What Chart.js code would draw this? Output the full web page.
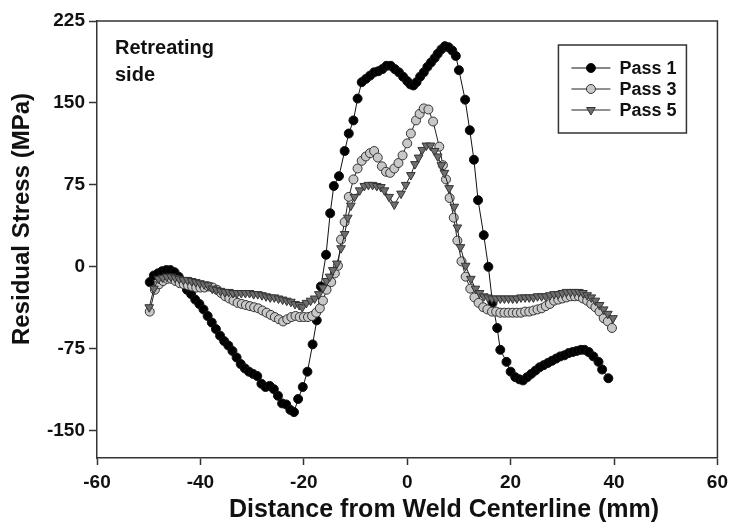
<!DOCTYPE html>
<html lang="en">
<head>
    <meta charset="UTF-8">
    <title>Residual Stress vs Distance from Weld Centerline</title>
    <script src="https://cdn.jsdelivr.net/npm/chart.js"></script>
    <style>
        html, body {
            margin: 0;
            padding: 0;
            background-color: #fff;
        }
        #wrap {
            width: 734px;
            height: 527px;
        }
    </style>
</head>
<body>
    <div id="wrap">
        <canvas id="stressChart" width="734" height="527"></canvas>
    </div>

    <script>
        /***************************
                  DATA
        ***************************/

        // Pass 1 measurements: distance (mm) and residual stress (MPa)
        const pass1X = [-49.8, -49.0, -48.2, -47.4, -46.6, -45.8, -45.0, -44.2, -43.4, -42.6,
            -41.8, -41.0, -40.2, -39.4, -38.6, -37.8, -37.0, -36.2, -35.4, -34.6,
            -33.8, -33.0, -32.2, -31.4, -30.6, -29.8, -29.0, -28.2, -27.4, -26.6,
            -25.8, -25.0, -24.2, -23.4, -22.6, -21.9, -21.1, -20.2, -19.3, -18.3,
            -17.5, -16.7, -15.7, -14.9, -14.2, -13.2, -12.1, -11.3, -10.4, -9.6,
            -8.8, -8.0, -7.2, -6.4, -5.6, -4.8, -4.0, -3.2, -2.4, -1.6,
            -0.8, 0.0, 0.6, 1.2, 1.8, 2.5, 3.2, 3.9, 4.6, 5.3,
            5.9, 6.6, 7.3, 8.0, 8.7, 9.4, 10.0, 11.2, 12.1, 12.9,
            13.7, 14.8, 15.7, 16.5, 17.4, 18.0, 19.2, 20.0, 20.9, 21.7,
            22.4, 23.2, 24.0, 24.8, 25.6, 26.4, 27.2, 28.0, 28.8, 29.6,
            30.4, 31.2, 32.0, 32.8, 33.6, 34.3, 35.1, 36.0, 37.0, 37.7, 38.9];
        const pass1Y = [-14, -8, -6, -4, -3, -3, -5, -9, -14, -21,
            -25, -30, -34, -39, -45, -51, -57, -63, -68, -72,
            -77, -83, -89, -93, -96, -98, -100, -107, -110, -109,
            -112, -118, -125, -126, -131, -133, -121, -110, -96, -71,
            -49, -18, 11, 49, 74, 83, 106, 122, 134, 154,
            169, 172, 175, 178, 179, 181, 184, 184, 181, 178,
            174, 170, 167, 166, 169, 174, 178, 183, 187, 191,
            195, 199, 202, 201, 198, 193, 180, 153, 125, 98,
            61, 29, 0, -33, -56, -76, -87, -96, -101, -103,
            -104, -101, -98, -95, -92, -90, -88, -86, -84, -82,
            -81, -79, -78, -77, -76, -76, -78, -82, -87, -94, -102];

        // Pass 3 measurements
        const pass3X = [-49.8, -48.8, -48.0, -47.2, -46.4, -45.6, -44.8, -44.0, -43.2, -42.4,
            -41.6, -40.8, -40.0, -39.2, -38.4, -37.6, -36.8, -36.0, -35.2, -34.4,
            -33.6, -32.8, -32.0, -31.2, -30.4, -29.6, -28.8, -28.0, -27.2, -26.4,
            -25.6, -24.8, -24.0, -23.2, -22.4, -21.6, -20.8, -20.0, -19.2, -18.4,
            -17.6, -16.9, -16.3, -15.6, -14.7, -14.0, -13.4, -12.8, -12.1, -11.3,
            -10.4, -9.6, -8.8, -8.0, -7.2, -6.4, -5.7, -4.9, -4.1, -3.3,
            -2.5, -1.7, -0.9, 0.0, 0.7, 1.7, 2.4, 3.2, 4.1, 5.0,
            6.2, 6.9, 7.5, 8.2, 9.0, 9.7, 10.5, 11.3, 12.2, 13.0,
            13.8, 14.7, 15.5, 16.4, 17.2, 18.0, 18.8, 19.6, 20.4, 21.2,
            22.0, 22.8, 23.6, 24.4, 25.2, 26.0, 26.8, 27.6, 28.4, 29.2,
            30.0, 30.8, 31.6, 32.4, 33.2, 34.0, 34.8, 35.6, 36.4, 37.2,
            38.0, 38.8, 39.6];
        const pass3Y = [-41, -21, -16, -13, -11, -11, -13, -15, -16, -17,
            -18, -19, -19, -19, -18, -19, -21, -24, -27, -29,
            -31, -33, -34, -35, -36, -37, -38, -40, -42, -44,
            -46, -48, -50, -48, -46, -45, -46, -46, -46, -45,
            -42, -38, -31, -21, -14, -6, 1, 25, 41, 64,
            80, 90, 97, 101, 104, 106, 100, 92, 87, 86,
            90, 95, 102, 113, 122, 134, 140, 145, 144, 133,
            110, 93, 80, 63, 45, 24, 5, -9, -20, -28,
            -33, -37, -39, -41, -41, -42, -42, -42, -42, -42,
            -42, -41, -41, -40, -39, -38, -36, -34, -31, -30,
            -29, -28, -27, -27, -27, -29, -31, -34, -37, -41,
            -47, -50, -56];

        // Pass 5 measurements
        const pass5X = [-49.9, -49.0, -48.1, -47.3, -46.5, -45.7, -44.9, -44.1, -43.3, -42.5,
            -41.7, -40.9, -40.1, -39.3, -38.5, -37.7, -36.9, -36.1, -35.3, -34.5,
            -33.7, -32.9, -32.1, -31.3, -30.5, -29.7, -28.9, -28.1, -27.3, -26.5,
            -25.7, -24.9, -24.1, -23.3, -22.5, -21.7, -20.9, -20.3, -19.5, -18.7,
            -17.9, -17.1, -16.3, -15.6, -15.0, -14.4, -13.6, -12.8, -12.1, -11.5,
            -10.9, -10.2, -9.2, -8.3, -7.5, -6.7, -5.9, -5.1, -4.4, -3.5,
            -2.5, -1.2, -0.3, 0.7, 1.5, 2.2, 2.9, 3.7, 4.5, 5.3,
            5.9, 6.6, 7.2, 8.1, 9.1, 9.7, 10.3, 11.3, 12.3, 13.2,
            14.0, 14.8, 15.6, 16.4, 17.2, 18.0, 18.8, 19.6, 20.4, 21.2,
            22.0, 22.8, 23.6, 24.4, 25.2, 26.0, 26.8, 27.6, 28.4, 29.2,
            30.0, 30.8, 31.6, 32.4, 33.2, 34.0, 34.8, 35.6, 36.4, 37.2,
            38.0, 38.8, 39.8];
        const pass5Y = [-37, -20, -11, -10, -9, -9, -10, -11, -12, -12,
            -13, -14, -15, -16, -17, -20, -21, -22, -23, -23,
            -24, -24, -24, -24, -24, -25, -25, -26, -27, -28,
            -28, -29, -30, -31, -32, -34, -35, -37, -33, -31,
            -29, -25, -19, -13, -9, -3, 3, 17, 30, 45,
            56, 64, 70, 74, 75, 75, 74, 73, 70, 64,
            57, 67, 75, 84, 94, 100, 107, 111, 111, 106,
            101, 93, 86, 72, 55, 36, 18, 1, -11, -20,
            -24, -27, -28, -29, -29, -29, -29, -29, -29, -29,
            -28, -28, -28, -28, -27, -27, -27, -26, -25, -25,
            -24, -23, -23, -23, -23, -24, -26, -28, -31, -35,
            -39, -43, -47];

        // axis ticks
        const xTicks = [-60, -40, -20, 0, 20, 40, 60];
        const yTicks = [-150, -75, 0, 75, 150, 225];

        const seriesNames = ['Pass 1', 'Pass 3', 'Pass 5'];
        const xTitle = 'Distance from Weld Centerline (mm)';
        const yTitle = 'Residual Stress (MPa)';
        const sideNote = ['Retreating', 'side'];

        const FONT = 'Arial, "Liberation Sans", sans-serif';

        // pair up x and y arrays into {x, y} points
        function toPoints(xs, ys) {
            return xs.map((x, i) => ({ x: x, y: ys[i] }));
        }


        /***************************
              CUSTOM PLUGINS
        ***************************/

        // draws the box around the plot, axis titles, boxed legend and side label
        const framePlugin = {
            id: 'frameAndLegend',
            afterDatasetsDraw(chart) {
                const ctx = chart.ctx;
                const area = chart.chartArea;

                ctx.save();

                // frame on top and right side
                ctx.strokeStyle = '#333';
                ctx.lineWidth = 1.5;
                ctx.beginPath();
                ctx.moveTo(area.left, area.top);
                ctx.lineTo(area.right, area.top);
                ctx.lineTo(area.right, area.bottom);
                ctx.stroke();

                // axis titles
                ctx.fillStyle = '#111';
                ctx.textAlign = 'center';
                ctx.textBaseline = 'middle';
                ctx.font = 'bold 25px ' + FONT;
                ctx.fillText(xTitle, area.left + 347, area.bottom + 52);

                ctx.save();
                ctx.translate(22, area.top + 198);
                ctx.rotate(-Math.PI / 2);
                ctx.font = 'bold 24px ' + FONT;
                ctx.fillText(yTitle, 0, 0);
                ctx.restore();

                // "Retreating side" label
                ctx.font = 'bold 20px ' + FONT;
                ctx.textAlign = 'left';
                ctx.fillText(sideNote[0], area.left + 18, area.top + 27);
                ctx.fillText(sideNote[1], area.left + 18, area.top + 54);

                // legend box
                const boxX = area.right - 159;
                const boxY = area.top + 24;
                const boxW = 128;
                const boxH = 88;
                ctx.fillStyle = '#fff';
                ctx.fillRect(boxX, boxY, boxW, boxH);
                ctx.strokeStyle = '#333';
                ctx.lineWidth = 1.5;
                ctx.strokeRect(boxX, boxY, boxW, boxH);

                chart.data.datasets.forEach((ds, i) => {
                    const rowY = boxY + 23 + i * 21;
                    const lineX0 = boxX + 13;
                    const lineX1 = boxX + 52;

                    ctx.strokeStyle = ds.borderColor;
                    ctx.lineWidth = 1;
                    ctx.beginPath();
                    ctx.moveTo(lineX0, rowY);
                    ctx.lineTo(lineX1, rowY);
                    ctx.stroke();

                    ctx.fillStyle = ds.pointBackgroundColor;
                    ctx.strokeStyle = ds.pointBorderColor;
                    ctx.lineWidth = ds.pointBorderWidth;
                    Chart.helpers.drawPoint(ctx, {
                        pointStyle: ds.pointStyle,
                        radius: ds.pointRadius,
                        rotation: ds.pointRotation || 0,
                        borderWidth: ds.pointBorderWidth
                    }, (lineX0 + lineX1) / 2, rowY);

                    ctx.fillStyle = '#111';
                    ctx.font = 'bold 18px ' + FONT;
                    ctx.textAlign = 'left';
                    ctx.textBaseline = 'middle';
                    ctx.fillText(ds.label, boxX + 61, rowY + 1);
                });

                ctx.restore();
            }
        };


        /***************************
                DRAW CHART
        ***************************/

        const ctx = document.getElementById('stressChart').getContext('2d');

        const stressChart = new Chart(ctx, {
            type: 'line',
            data: {
                datasets: [
                    {
                        label: seriesNames[0],
                        data: toPoints(pass1X, pass1Y),
                        borderColor: '#111',
                        borderWidth: 1,
                        pointStyle: 'circle',
                        pointRadius: 4.5,
                        pointBackgroundColor: '#000',
                        pointBorderColor: '#111',
                        pointBorderWidth: 1,
                        order: 3
                    },
                    {
                        label: seriesNames[1],
                        data: toPoints(pass3X, pass3Y),
                        borderColor: '#222',
                        borderWidth: 1,
                        pointStyle: 'circle',
                        pointRadius: 4.5,
                        pointBackgroundColor: '#c8c8c8',
                        pointBorderColor: '#333',
                        pointBorderWidth: 1,
                        order: 2
                    },
                    {
                        label: seriesNames[2],
                        data: toPoints(pass5X, pass5Y),
                        borderColor: '#222',
                        borderWidth: 1,
                        pointStyle: 'triangle',
                        pointRotation: 180,
                        pointRadius: 5,
                        pointBackgroundColor: '#6e6e6e',
                        pointBorderColor: '#333',
                        pointBorderWidth: 1,
                        order: 1
                    }
                ]
            },
            options: {
                responsive: false,
                animation: false,
                events: [],
                layout: {
                    padding: { top: 21, right: 13, left: 0, bottom: 0 }
                },
                plugins: {
                    legend: { display: false },
                    tooltip: { enabled: false }
                },
                elements: {
                    line: { tension: 0 }
                },
                scales: {
                    x: {
                        type: 'linear',
                        min: -60,
                        max: 60,
                        afterBuildTicks: (scale) => {
                            scale.ticks = xTicks.map(v => ({ value: v }));
                        },
                        afterFit: (scale) => { scale.height = 69; },
                        grid: {
                            drawOnChartArea: false,
                            drawTicks: true,
                            tickLength: 7,
                            tickColor: '#333',
                            tickWidth: 1.5
                        },
                        border: { color: '#333', width: 1.5 },
                        ticks: {
                            color: '#111',
                            padding: 6,
                            maxRotation: 0,
                            font: { family: FONT, size: 19, weight: 'bold' }
                        }
                    },
                    y: {
                        type: 'linear',
                        min: -175,
                        max: 225,
                        afterBuildTicks: (scale) => {
                            scale.ticks = yTicks.map(v => ({ value: v }));
                        },
                        afterFit: (scale) => { scale.width = 97; },
                        grid: {
                            drawOnChartArea: false,
                            drawTicks: true,
                            tickLength: 8,
                            tickColor: '#333',
                            tickWidth: 1.5
                        },
                        border: { color: '#333', width: 1.5 },
                        ticks: {
                            color: '#111',
                            padding: 4,
                            font: { family: FONT, size: 19, weight: 'bold' }
                        }
                    }
                }
            },
            plugins: [framePlugin]
        });
    </script>
</body>
</html>
